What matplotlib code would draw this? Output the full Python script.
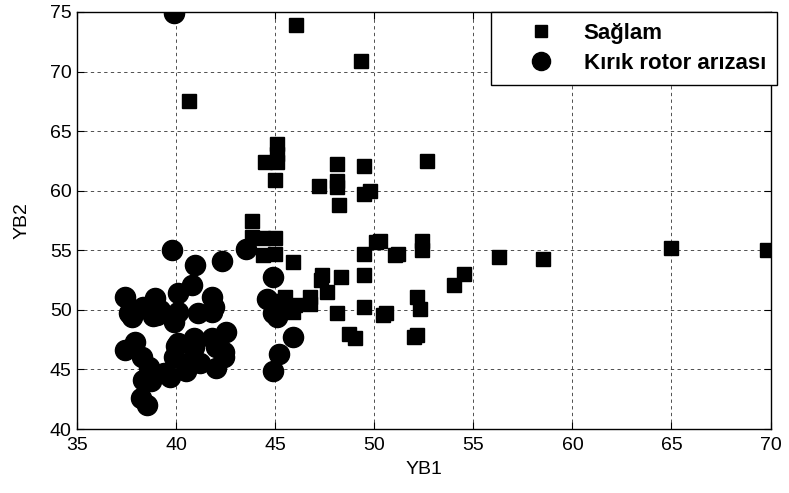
import matplotlib
matplotlib.use("Agg")
import matplotlib.pyplot as plt

# Sağlam (squares)
saglam_x = [46.05, 49.3, 40.65, 45.1, 45.1, 44.5, 45.1, 45.0, 47.2, 48.1, 48.1, 48.1, 48.2,
            49.5, 49.5, 49.8, 52.65, 43.8, 43.8, 44.4, 45.0, 44.4, 45.0, 45.9, 49.5, 50.1,
            50.3, 51.05, 51.2, 52.4, 52.4, 56.3, 58.5, 65.0, 69.8, 54.5, 54.0, 47.35, 47.3,
            48.3, 47.6, 46.75, 46.75, 45.5, 46.0, 45.9, 48.1, 49.5, 49.5, 50.6, 50.45, 48.7,
            49.0, 52.15, 52.3, 52.15, 52.0]
saglam_y = [73.9, 70.9, 67.55, 63.9, 63.1, 62.4, 62.4, 60.9, 60.4, 62.25, 60.85, 60.3, 58.8,
            62.05, 59.7, 60.0, 62.5, 57.5, 56.1, 56.0, 56.0, 54.6, 54.7, 54.0, 54.7, 55.7,
            55.8, 54.6, 54.7, 55.8, 55.0, 54.4, 54.3, 55.15, 55.0, 53.0, 52.05, 52.9, 52.5,
            52.75, 51.5, 51.1, 50.5, 51.1, 50.4, 49.8, 49.7, 50.2, 52.9, 49.7, 49.55, 48.0,
            47.6, 51.1, 50.1, 47.9, 47.7]

# Kırık rotor arızası (circles)
kirik_x = [39.9, 39.8, 40.95, 42.3, 43.5, 40.8, 40.1, 37.4, 38.9, 41.8, 37.7, 37.75, 38.3,
           39.0, 39.2, 40.1, 39.9, 41.1, 41.9, 41.8, 37.9, 37.4, 38.25, 38.6, 38.3, 38.7,
           38.2, 38.5, 39.4, 39.7, 40.0, 39.9, 40.5, 40.9, 40.9, 40.8, 41.2, 41.8, 42.0,
           42.0, 42.5, 42.4, 42.4, 44.9, 44.6, 45.1, 44.9, 45.1, 45.9, 45.2, 44.9, 37.6,
           38.8, 40.1]
kirik_y = [74.9, 55.0, 53.8, 54.1, 55.1, 52.1, 51.4, 51.1, 51.0, 51.1, 50.1, 49.4, 50.25,
           49.55, 50.0, 49.8, 49.0, 49.7, 50.25, 49.8, 47.3, 46.6, 46.05, 45.2, 44.1, 44.0,
           42.6, 42.0, 44.7, 44.4, 47.0, 46.05, 44.9, 47.6, 46.9, 45.8, 45.5, 47.6, 46.9,
           45.1, 48.15, 46.5, 46.05, 52.75, 50.9, 50.5, 49.7, 49.4, 47.7, 46.3, 44.9, 49.7,
           49.5, 47.2]

labels = ["Sağlam", "Kırık rotor arızası"]
xticks = [35, 40, 45, 50, 55, 60, 65, 70]
yticks = [40, 45, 50, 55, 60, 65, 70, 75]

plt.rcParams['font.family'] = ['Liberation Sans', 'DejaVu Sans']

fig = plt.figure(figsize=(7.89, 4.93), dpi=100)
ax = fig.add_axes([77.3 / 789, 1 - 429 / 493, (770.5 - 77.3) / 789, (429 - 12) / 493])

ax.plot(saglam_x, saglam_y, linestyle='none', marker='s', markersize=10,
        color='black', markeredgecolor='black', label=labels[0], zorder=3)
ax.plot(kirik_x, kirik_y, linestyle='none', marker='o', markersize=14.5,
        color='black', markeredgecolor='black', label=labels[1], zorder=3)

ax.set_xlim(35, 70)
ax.set_ylim(40, 75)
ax.set_xticks(xticks)
ax.set_yticks(yticks)
ax.tick_params(direction='in', length=5, width=0.8, labelsize=14, top=True, right=True,
               colors='black')
ax.tick_params(axis='x', pad=6)
ax.tick_params(axis='y', pad=4)
ax.grid(True, linestyle=(0, (4, 4)), color='#333333', linewidth=0.6)
for s in ax.spines.values():
    s.set_linewidth(1.0)
    s.set_color('black')

ax.set_xlabel("YB1", fontsize=14, labelpad=5)
ax.set_ylabel("YB2", fontsize=14, labelpad=14)

leg = ax.legend(loc='upper right', bbox_to_anchor=(777 / 789, 1 - 12 / 493),
                bbox_transform=fig.transFigure, borderaxespad=0,
                prop={'weight': 'bold', 'size': 16}, frameon=True, fancybox=False,
                edgecolor='black', framealpha=1, handlelength=3.5, handletextpad=0.15,
                borderpad=0.5, labelspacing=0.4, markerscale=0.9)
leg.get_frame().set_linewidth(1.0)
leg.set_zorder(5)

fig.savefig("out.png", dpi=100)
